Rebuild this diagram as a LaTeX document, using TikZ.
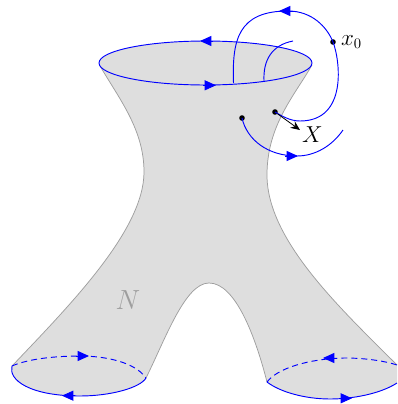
\documentclass[tikz,border=0pt]{standalone}
\usetikzlibrary{arrows.meta}
\tikzset{
  x=0.75pt,y=-0.75pt,
  surface/.style={fill=black!13,draw=none},
  edgeline/.style={draw=black!38,line width=0.55pt},
  curveline/.style={draw=blue,line width=0.7pt},
  dashline/.style={curveline,dash pattern=on 4.5pt off 3pt},
  headmark/.style={draw=blue,line width=0.65pt,-{Triangle[length=8.5pt,width=7.5pt,fill=blue]}},
  dotmark/.style={circle,fill=black,inner sep=0pt,minimum size=4.2pt},
}
\begin{document}
\begin{tikzpicture}
\useasboundingbox (0,0) rectangle (397,404);
% surface
\path[surface] (100,66) .. controls (120,100) and (144,130) .. (144,172)
  .. controls (144,230) and (70,305) .. (12,366)
  .. controls (8,380) and (30,396) .. (80,396)
  .. controls (110,396) and (140,388) .. (146,378)
  .. controls (165,340) and (185,283) .. (209,283)
  .. controls (235,283) and (255,335) .. (267,382)
  .. controls (280,392) and (305,399) .. (330,399)
  .. controls (352,399) and (380,394) .. (397,383)
  -- (397,365)
  .. controls (340,308) and (267,240) .. (267,175)
  .. controls (267,125) and (295,95) .. (312,65)
  -- cycle;
\path[surface] (205.5,63) ellipse [x radius=106.5,y radius=22];
\draw[edgeline] (100,66) .. controls (120,100) and (144,130) .. (144,172)
  .. controls (144,230) and (70,305) .. (12,366);
\draw[edgeline] (146,378) .. controls (165,340) and (185,283) .. (209,283)
  .. controls (235,283) and (255,335) .. (267,382);
\draw[edgeline] (397,365) .. controls (340,308) and (267,240) .. (267,175)
  .. controls (267,125) and (295,95) .. (312,65);
% top boundary
\draw[curveline] (205.5,63) ellipse [x radius=106.5,y radius=22];
% lower left boundary
\draw[curveline] (12,366) .. controls (8,380) and (30,396) .. (80,396)
  .. controls (110,396) and (140,388) .. (146,378);
\draw[dashline] (12,366) .. controls (30,358) and (60,356) .. (80,356)
  .. controls (105,356) and (135,362) .. (146,378);
% lower right boundary
\draw[curveline] (267,382) .. controls (280,392) and (305,399) .. (330,399)
  .. controls (352,399) and (380,394) .. (397,383);
\draw[dashline] (267,382) .. controls (280,365) and (320,358) .. (345,358)
  .. controls (365,358) and (385,361) .. (397,365);
% nodes
\node[dotmark] (xz) at (333,42) {};
\node[dotmark] (p) at (275,112) {};
\node[dotmark] (q) at (242,118) {};
\coordinate (tip) at (300,130);
\coordinate (a) at (233.5,83);
\coordinate (b) at (264,81);
\coordinate (c) at (293,41);
\coordinate (d) at (343,130);
% loops
\draw[curveline] (a) .. controls (232,40) and (238,11) .. (288,11)
  .. controls (312,11) and (327,27) .. (xz.center)
  .. controls (340,60) and (348,121) .. (300,121)
  .. controls (290,121) and (282,116) .. (p.center);
\draw[curveline] (b) .. controls (263,60) and (272,45) .. (c);
\draw[curveline] (q.center) .. controls (247,140) and (268,156) .. (297,156)
  .. controls (315,156) and (332,146) .. (d);
\draw[-{Stealth[length=7pt,width=6pt]},line width=0.6pt] (p) -- (tip);
% arrowheads
\draw[headmark] (213,41) -- (200,41);
\draw[headmark] (203,85.3) -- (216,85.3);
\draw[headmark] (295,11) -- (279,11);
\draw[headmark] (285,156) -- (298,156);
\draw[headmark] (76,356) -- (89,356);
\draw[headmark] (75,395.7) -- (62,395.7);
\draw[headmark] (337,358) -- (323,358);
\draw[headmark] (339,398.3) -- (352,398.3);
% labels
\node (lx) at (351.5,42) {\fontsize{16}{16}\selectfont $x_0$};
\node (lX) at (312.5,135) {\fontsize{18}{18}\selectfont $X$};
\node[text=black!38] (lN) at (128,300) {\fontsize{20}{20}\selectfont $N$};
\end{tikzpicture}
\end{document}
